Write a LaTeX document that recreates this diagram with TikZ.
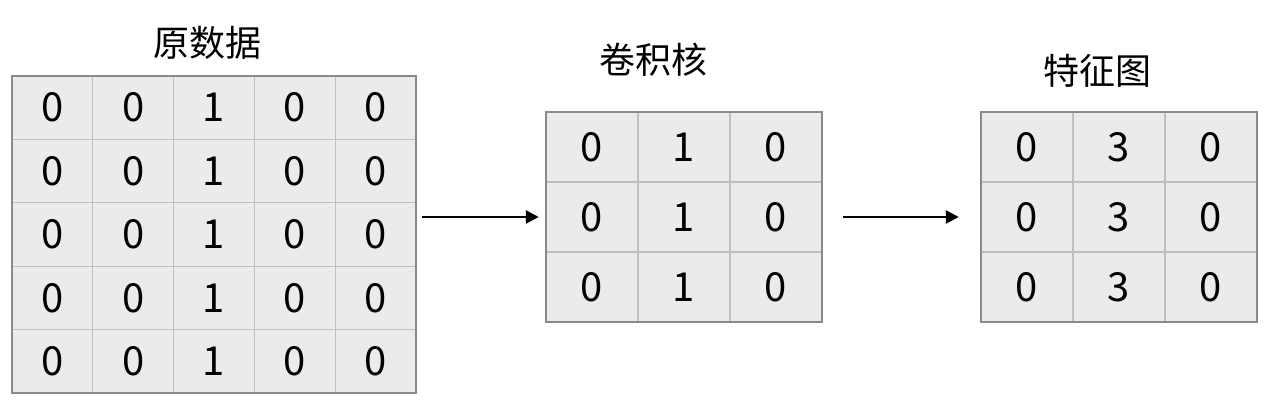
\documentclass[tikz,border=0pt]{standalone}
\usepackage{fontspec}
\newfontfamily\cjk{Noto Sans CJK SC}
\usetikzlibrary{arrows.meta}
\definecolor{cellfill}{HTML}{EBEBEB}
\definecolor{innerline}{HTML}{BFBFBF}
\definecolor{outerline}{HTML}{8A8A8A}
\begin{document}
\begin{tikzpicture}[x=1pt,y=1pt,
  title/.style={font=\cjk\fontsize{36}{40}\selectfont, inner sep=0pt},
  num/.style={font=\cjk\fontsize{40}{44}\selectfont, inner sep=0pt},
  gridbox/.style={fill=cellfill, inner sep=0pt, draw=none},
  inner/.style={draw=innerline, line width=1.2pt},
  outer/.style={draw=outerline, line width=1.6pt},
  arr/.style={-{Triangle[length=13pt,width=13pt]}, line width=2.6pt}]
\useasboundingbox (0,0) rectangle (1279,407);
% grids
\node[gridbox, minimum width=404pt, minimum height=317pt] (g1) at (214,172.5) {};
\node[gridbox, minimum width=276pt, minimum height=210pt] (g2) at (684,190) {};
\node[gridbox, minimum width=276pt, minimum height=210pt] (g3) at (1119,190) {};
% inner lines grid 1
\foreach \k in {1,...,4} {
  \draw[inner] (12+\k*80.8,14) -- (12+\k*80.8,331);
  \draw[inner] (12,14+\k*63.4) -- (416,14+\k*63.4);
}
% inner lines grids 2 and 3
\foreach \k in {1,2} {
  \draw[inner] (546+\k*92,85) -- (546+\k*92,295);
  \draw[inner] (546,85+\k*70) -- (822,85+\k*70);
  \draw[inner] (981+\k*92,85) -- (981+\k*92,295);
  \draw[inner] (981,85+\k*70) -- (1257,85+\k*70);
}
\draw[outer] (g1.south west) rectangle (g1.north east);
\draw[outer] (g2.south west) rectangle (g2.north east);
\draw[outer] (g3.south west) rectangle (g3.north east);
% numbers grid 1
\foreach \i in {1,...,5} {
  \foreach \v [count=\j] in {0,0,1,0,0} {
    \node[num] (a-\i-\j) at (12+80.8*\j-40.4, 331-63.4*\i+31.7) {\v};
  }
}
% numbers grid 2
\foreach \i in {1,2,3} {
  \foreach \v [count=\j] in {0,1,0} {
    \node[num] (b-\i-\j) at (546+92*\j-46, 295-70*\i+35) {\v};
  }
}
% numbers grid 3
\foreach \i in {1,2,3} {
  \foreach \v [count=\j] in {0,3,0} {
    \node[num] (c-\i-\j) at (981+92*\j-46, 295-70*\i+35) {\v};
  }
}
% titles
\node[title] (t1) at (207,364) {原数据};
\node[title] (t2) at (653,347) {卷积核};
\node[title] (t3) at (1097,336) {特征图};
% arrows
\draw[arr, shorten <=6pt, shorten >=7pt] (g1.east |- g2.west) -- (g2.west);
\draw[arr, shorten <=21pt, shorten >=22pt] (g2.east) -- (g3.west);
\end{tikzpicture}
\end{document}
